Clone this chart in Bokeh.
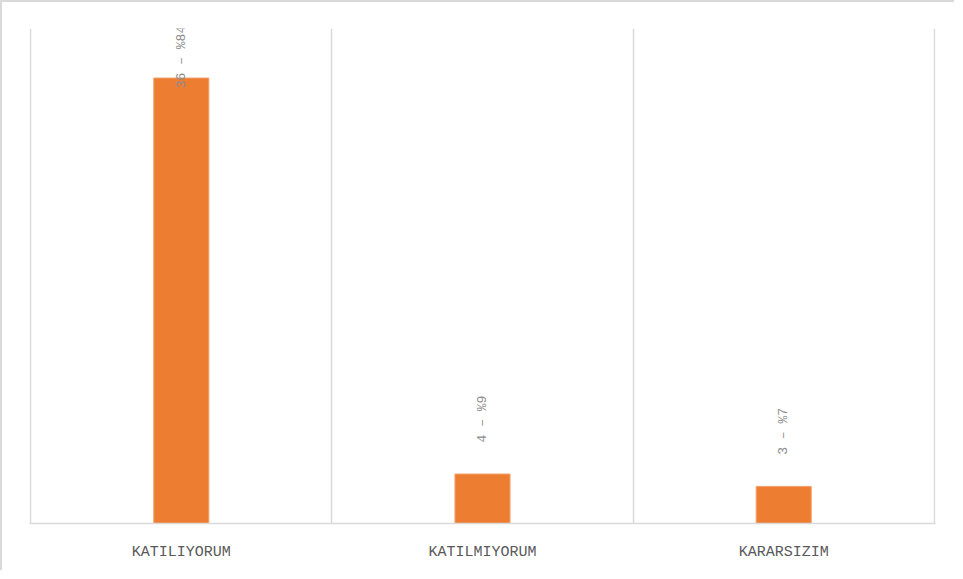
import math
from bokeh.plotting import figure
from bokeh.models import ColumnDataSource, Range1d, FixedTicker
from bokeh.core.properties import value
from bokeh.embed import file_html
from bokeh.resources import INLINE

categories = ["KATILIYORUM", "KATILMIYORUM", "KARARSIZIM"]
counts = [36, 4, 3]
percents = [84, 9, 7]
Y_MAX = 40

xs = [i + 0.5 for i in range(len(categories))]
labels = [f"{c} – %{p}" for c, p in zip(counts, percents)]
# labels centred above the bar, moved closer when the bar is near the top
offsets = [-21 if c > 0.8 * Y_MAX else -55 for c in counts]

src = ColumnDataSource(dict(x=xs, top=counts, label=labels, off=offsets))

p = figure(width=954, height=570, output_backend="svg", toolbar_location=None,
           x_range=Range1d(-0.004, len(categories) + 0.004), y_range=Range1d(0, Y_MAX),
           min_border_left=27, min_border_right=21, min_border_top=26, min_border_bottom=49)
p.styles = {"border-left": "2px solid #d9d9d9", "border-top": "2px solid #d9d9d9"}
p.outline_line_color = None
p.background_fill_color = "white"
p.border_fill_color = "white"

p.vbar(x="x", top="top", bottom=0, width=0.183, source=src,
       fill_color="#ED7D31", line_color="#F4A46E", line_width=1)

p.text(x="x", y="top", text="label", source=src, angle=math.pi / 2,
       y_offset="off", text_align="center", text_baseline="middle",
       text_font=value("Liberation Mono"), text_font_size="13px", text_color="#8c8c8c")

p.yaxis.visible = False
p.ygrid.visible = False
p.xgrid.ticker = FixedTicker(ticks=list(range(len(categories) + 1)))
p.xgrid.grid_line_color = "#d9d9d9"
p.xgrid.grid_line_width = 1.5

p.xaxis.ticker = FixedTicker(ticks=xs)
p.xaxis.major_label_overrides = {x: c for x, c in zip(xs, categories)}
p.xaxis.major_tick_line_color = None
p.xaxis.minor_tick_line_color = None
p.xaxis.axis_line_color = "#d9d9d9"
p.xaxis.axis_line_width = 1.5
p.xaxis.major_label_text_font = "Liberation Mono"
p.xaxis.major_label_text_font_size = "15px"
p.xaxis.major_label_text_color = "#595959"
p.xaxis.major_label_standoff = 14

open("out.html", "w").write(file_html(p, INLINE))
